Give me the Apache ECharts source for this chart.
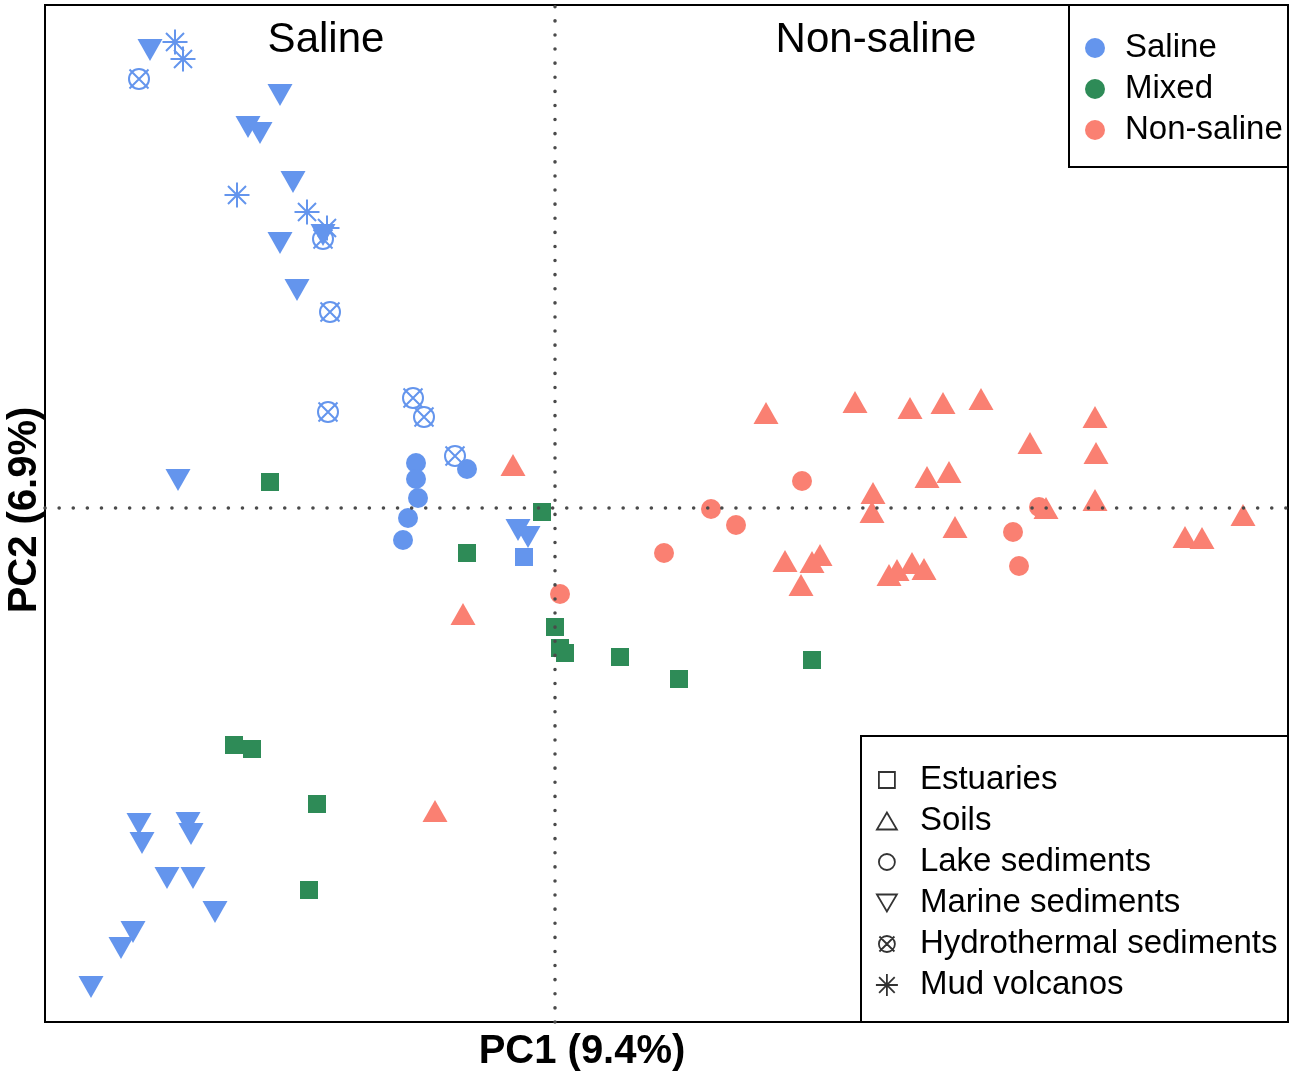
<!DOCTYPE html>
<html>
<head>
<meta charset="utf-8">
<script src="https://cdn.jsdelivr.net/npm/echarts@6/dist/echarts.min.js"></script>
<style>
html,body{margin:0;padding:0;background:#fff;}
#chart{width:1293px;height:1076px;}
</style>
</head>
<body>
<div id="chart"></div>
<script>
// ---- Data (PC1, PC2 scores) ----
const salineMarine = [[-4.05,4.58],[-2.75,4.13],[-3.07,3.81],[-2.95,3.75],[-2.62,3.26],[-2.75,2.65],[-2.32,2.73],[-2.58,2.18],[-3.77,0.28],[-0.37,-0.22],[-0.27,-0.29],[-4.16,-3.16],[-4.13,-3.35],[-3.67,-3.15],[-3.64,-3.26],[-3.88,-3.70],[-3.62,-3.70],[-3.40,-4.04],[-4.22,-4.24],[-4.34,-4.40],[-4.64,-4.79]];
const salineMud = [[-3.80,4.66],[-3.72,4.49],[-3.18,3.13],[-2.48,2.96],[-2.28,2.80]];
const salineHydro = [[-4.16,4.29],[-2.32,2.69],[-2.25,1.96],[-2.27,0.96],[-1.42,1.10],[-1.31,0.91],[-1.00,0.52]];
const salineLake = [[-1.39,0.45],[-1.39,0.29],[-1.37,0.10],[-1.47,-0.10],[-1.52,-0.32],[-0.88,0.39]];
const salineEstuary = [[-0.31,-0.49]];
const mixedEstuary = [[-2.85,0.26],[-0.13,-0.04],[-0.88,-0.45],[0.00,-1.19],[0.05,-1.40],[0.10,-1.45],[0.65,-1.49],[1.24,-1.71],[2.57,-1.52],[-3.21,-2.37],[-3.03,-2.41],[-2.38,-2.96],[-2.46,-3.82]];
const nonSalineSoil = [[-0.42,0.43],[-0.92,-1.06],[-1.20,-3.03],[2.11,0.95],[3.00,1.06],[3.55,1.00],[3.88,1.05],[4.26,1.09],[5.40,0.91],[4.75,0.65],[5.41,0.55],[3.72,0.31],[3.94,0.36],[3.18,0.15],[5.40,0.08],[3.17,-0.04],[4.91,0.00],[4.00,-0.19],[6.30,-0.29],[6.47,-0.30],[6.88,-0.07],[2.30,-0.53],[2.57,-0.54],[2.65,-0.47],[2.46,-0.77],[3.34,-0.67],[3.42,-0.62],[3.57,-0.55],[3.69,-0.61]];
const nonSalineLake = [[0.05,-0.86],[2.47,0.27],[1.56,-0.01],[1.81,-0.17],[1.09,-0.45],[4.58,-0.24],[4.64,-0.58],[4.84,0.01]];

const groups = ['Saline','Mixed','Non-saline'];
const habitats = ['Estuaries','Soils','Lake sediments','Marine sediments','Hydrothermal sediments','Mud volcanos'];
const panelLabels = ['Saline','Non-saline'];
const xLabel = 'PC1 (9.4%)';
const yLabel = 'PC2 (6.9%)';

// ---- Styles ----
const COLORS = {'Saline':'#6495ED','Mixed':'#2E8B57','Non-saline':'#FA8072'};
const FONT = '"Liberation Sans", Arial, Helvetica, sans-serif';
const SYM = {
  'Estuaries': 'rect',
  'Soils': 'triangle',
  'Lake sediments': 'circle',
  'Marine sediments': 'path://M0,0L2,0L1,1.75Z',
  'Hydrothermal sediments': 'path://M1,0A1,1,0,1,1,-1,0A1,1,0,1,1,1,0ZM-0.95,-0.95L0.95,0.95M-0.95,0.95L0.95,-0.95',
  'Mud volcanos': 'path://M-1,0L1,0M0,-1L0,1M-0.72,-0.72L0.72,0.72M-0.72,0.72L0.72,-0.72'
};
const SIZE = {'Estuaries':18,'Soils':[25,22],'Lake sediments':20,'Marine sediments':[25,22],'Hydrothermal sediments':20,'Mud volcanos':25};
const OUTLINE = {'Hydrothermal sediments':true,'Mud volcanos':true};

function mk(group, habitat, data){
  const c = COLORS[group];
  const style = OUTLINE[habitat]
    ? {color:'rgba(0,0,0,0)', borderColor:c, borderWidth:2, opacity:1}
    : {color:c, opacity:1};
  return {type:'scatter', name:group, data:data, symbol:SYM[habitat], symbolSize:SIZE[habitat],
          itemStyle:style, z:2, silent:true, emphasis:{disabled:true}, animation:false};
}

const series = [
  mk('Saline','Lake sediments',salineLake),
  mk('Saline','Marine sediments',salineMarine),
  mk('Saline','Hydrothermal sediments',salineHydro),
  mk('Saline','Mud volcanos',salineMud),
  mk('Saline','Estuaries',salineEstuary),
  mk('Mixed','Estuaries',mixedEstuary),
  mk('Non-saline','Soils',nonSalineSoil),
  mk('Non-saline','Lake sediments',nonSalineLake)
];
// legend-only series for habitat shapes
habitats.forEach(h => series.push({type:'scatter', name:h, data:[], symbol:SYM[h], itemStyle:{color:'#000'}}));

// legend icons drawn in a common 22x22 box (leading moveTo points fix the box)
const BOX = 'M0,0M22,22';
const LEG_ICON = {
  'Estuaries':'path://'+BOX+'M3,3L19,3L19,19L3,19Z',
  'Soils':'path://'+BOX+'M11,2.5L21,19.5L1,19.5Z',
  'Lake sediments':'path://'+BOX+'M19,11A8,8,0,1,1,3,11A8,8,0,1,1,19,11Z',
  'Marine sediments':'path://'+BOX+'M1,2.5L21,2.5L11,19.5Z',
  'Hydrothermal sediments':'path://'+BOX+'M19,11A8,8,0,1,1,3,11A8,8,0,1,1,19,11ZM3.5,3.5L18.5,18.5M3.5,18.5L18.5,3.5',
  'Mud volcanos':'path://'+BOX+'M0,11L22,11M11,0L11,22M3.2,3.2L18.8,18.8M3.2,18.8L18.8,3.2'
};

const chart = echarts.init(document.getElementById('chart'), null, {renderer:'canvas'});
const dotted = {color:'#4a4a4a', width:3.5, type:[0.1,14], cap:'round'};
chart.setOption({
  animation:false,
  backgroundColor:'#fff',
  grid:{left:45, right:5, top:5, bottom:54, show:true, borderColor:'#000', borderWidth:2, backgroundColor:'rgba(0,0,0,0)'},
  xAxis:{type:'value', min:-5.10, max:7.33, z:10,
    axisLine:{show:true, onZero:true, lineStyle:dotted},
    axisTick:{show:false}, axisLabel:{show:false}, splitLine:{show:false}},
  yAxis:{type:'value', min:-5.14, max:5.03, z:10,
    axisLine:{show:true, onZero:true, lineStyle:dotted},
    axisTick:{show:false}, axisLabel:{show:false}, splitLine:{show:false}},
  legend:[
    {orient:'vertical', left:1085, top:27.5, padding:0, itemGap:0, itemWidth:50, itemHeight:20,
     selectedMode:false, z:20,
     textStyle:{fontSize:33, lineHeight:41, fontFamily:FONT, color:'#000'},
     data:groups.map(g => ({name:g, icon:'circle', itemStyle:{color:COLORS[g], borderWidth:0}}))},
    {orient:'vertical', left:875, top:759.5, padding:0, itemGap:0, itemWidth:56, itemHeight:22,
     selectedMode:false, z:20,
     textStyle:{fontSize:33, lineHeight:41, fontFamily:FONT, color:'#000'},
     data:habitats.map(h => ({name:h, icon:LEG_ICON[h], itemStyle:{color:'rgba(0,0,0,0)', borderColor:'#000', borderWidth:1.8}}))}
  ],
  graphic:[
    {type:'rect', shape:{x:1069, y:5, width:219, height:162}, style:{fill:'#fff', stroke:'#000', lineWidth:2}, z:15, silent:true},
    {type:'rect', shape:{x:861, y:736, width:427, height:286}, style:{fill:'#fff', stroke:'#000', lineWidth:2}, z:15, silent:true},
    {type:'text', x:326, y:40, z:15, silent:true, style:{text:panelLabels[0], font:'42px '+FONT, fill:'#000', textAlign:'center', textVerticalAlign:'middle'}},
    {type:'text', x:876, y:40, z:15, silent:true, style:{text:panelLabels[1], font:'42px '+FONT, fill:'#000', textAlign:'center', textVerticalAlign:'middle'}},
    {type:'text', x:582, y:1052, z:15, silent:true, style:{text:xLabel, font:'bold 40px '+FONT, fill:'#000', textAlign:'center', textVerticalAlign:'middle'}},
    {type:'text', x:25, y:510, rotation:Math.PI/2, z:15, silent:true, style:{text:yLabel, font:'bold 40px '+FONT, fill:'#000', textAlign:'center', textVerticalAlign:'middle'}}
  ],
  series:series
});
</script>
</body>
</html>
